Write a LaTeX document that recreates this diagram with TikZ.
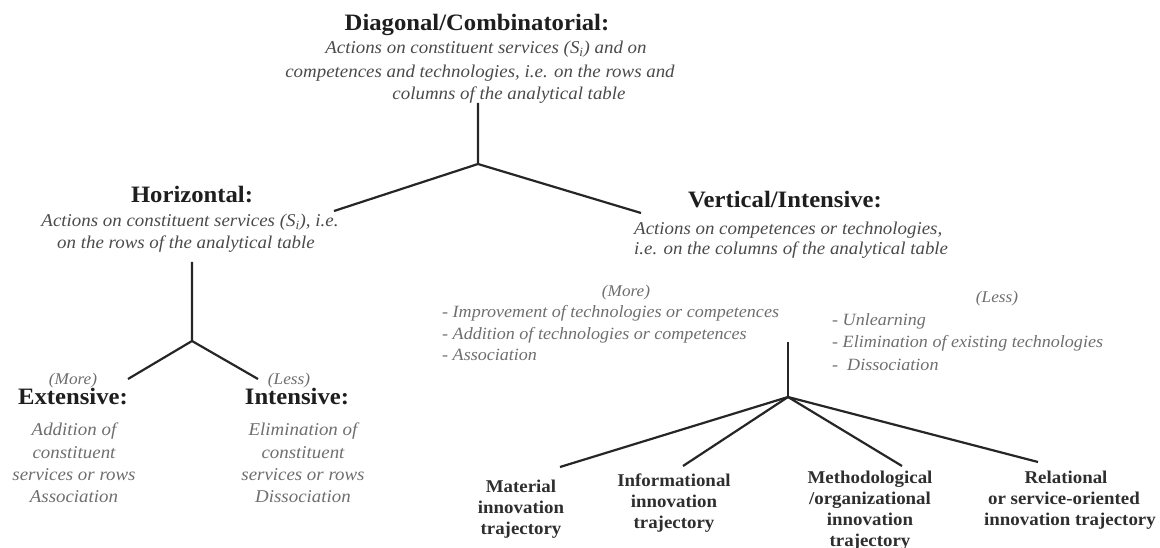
\documentclass[tikz,border=0pt]{standalone}
\usepackage{fontspec}
\setmainfont{Liberation Serif}[FakeStretch=1.05]
\definecolor{ink}{HTML}{1E1E1E}
\definecolor{note}{HTML}{4A4A4A}
\definecolor{soft}{HTML}{6E6E6E}
\definecolor{trajink}{HTML}{2E2E2E}
\definecolor{wire}{HTML}{262626}
\tikzset{
  head/.style={anchor=base, inner sep=0pt, text=ink, font=\fontsize{23.5}{26}\selectfont\bfseries},
  desc/.style={anchor=base, inner sep=0pt, text=note, font=\fontsize{18}{21}\selectfont\itshape},
  lowdesc/.style={desc, text=soft},
  listitem/.style={anchor=base west, inner sep=0pt, text=soft, font=\fontsize{17.2}{20}\selectfont\itshape},
  degree/.style={anchor=base, inner sep=0pt, text=soft, font=\fontsize{16.4}{19}\selectfont\itshape},
  traj/.style={anchor=base, inner sep=0pt, text=trajink, font=\fontsize{18}{21}\selectfont\bfseries},
  branch/.style={draw=wire, line width=2.2pt},
}
\begin{document}
\begin{tikzpicture}[x=1pt,y=-1pt]
\useasboundingbox (0,0) rectangle (1160,548);

% root: diagonal / combinatorial
\node[head] (diag) at (477,31) {Diagonal/Combinatorial:};
\node[desc] (diag1) at (486,54) {Actions on constituent services (S\textsubscript{i}) and on};
\node[desc] (diag2) at (480,78) {competences and technologies, i.e. on the rows and};
\node[desc] (diag3) at (509,100) {columns of the analytical table};

% horizontal branch
\node[head] (hor) at (192,203) {Horizontal:};
\node[desc] (hor1) at (190,227) {Actions on constituent services (S\textsubscript{i}), i.e.};
\node[desc] (hor2) at (186,249) {on the rows of the analytical table};

% vertical branch
\node[head] (vert) at (785,208) {Vertical/Intensive:};
\node[desc, anchor=base west] (vert1) at (634,235) {Actions on competences or technologies,};
\node[desc, anchor=base west] (vert2) at (634,255) {i.e. on the columns of the analytical table};

% horizontal: extensive / intensive
\node[degree] (hmore) at (73,384) {(More)};
\node[degree] (hless) at (289,384) {(Less)};
\node[head] (ext) at (73,404) {Extensive:};
\node[head] (int) at (297,404) {Intensive:};
\node[lowdesc] (ext1) at (74,435) {Addition of};
\node[lowdesc] (ext2) at (74,458) {constituent};
\node[lowdesc] (ext3) at (74,480) {services or rows};
\node[lowdesc] (ext4) at (74,502) {Association};
\node[lowdesc] (int1) at (303,435) {Elimination of};
\node[lowdesc] (int2) at (303,458) {constituent};
\node[lowdesc] (int3) at (303,480) {services or rows};
\node[lowdesc] (int4) at (303,502) {Dissociation};

% vertical: more / less
\node[degree] (vmore) at (626,297) {(More)};
\node[listitem] (vm1) at (442,317) {- Improvement of technologies or competences};
\node[listitem] (vm2) at (442,339) {- Addition of technologies or competences};
\node[listitem] (vm3) at (442,360) {- Association};
\node[degree] (vless) at (997,302) {(Less)};
\node[listitem] (vl1) at (832,326) {- Unlearning};
\node[listitem] (vl2) at (832,348) {- Elimination of existing technologies};
\node[listitem] (vl3) at (832,370) {-\ \ Dissociation};

% innovation trajectories
\node[traj] (mat1) at (521,492) {Material};
\node[traj] (mat2) at (521,513) {innovation};
\node[traj] (mat3) at (521,534) {trajectory};
\node[traj] (inf1) at (674,486) {Informational};
\node[traj] (inf2) at (674,507) {innovation};
\node[traj] (inf3) at (674,528) {trajectory};
\node[traj] (met1) at (870,483) {Methodological};
\node[traj] (met2) at (870,504) {/organizational};
\node[traj] (met3) at (870,525) {innovation};
\node[traj] (met4) at (870,546) {trajectory};
\node[traj] (rel1) at (1066,483) {Relational};
\node[traj] (rel2) at (1064,504) {or service-oriented};
\node[traj] (rel3) at (1070,525) {innovation trajectory};

% tree connectors
\coordinate (diagTop) at (478,103);
\coordinate (diagFork) at (478,164);
\coordinate (horEnd) at (334,211);
\coordinate (vertEnd) at (641,213);
\draw[branch] (diagTop) -- (diagFork) -- (horEnd);
\draw[branch] (diagFork) -- (vertEnd);

\coordinate (horTop) at (192,262);
\coordinate (horFork) at (192,341);
\coordinate (extEnd) at (128,379);
\coordinate (intEnd) at (258,379);
\draw[branch] (horTop) -- (horFork) -- (extEnd);
\draw[branch] (horFork) -- (intEnd);

\coordinate (vertTop) at (788,342);
\coordinate (vertFork) at (788,397);
\coordinate (matEnd) at (560,467);
\coordinate (infEnd) at (683,466);
\coordinate (metEnd) at (902,466);
\coordinate (relEnd) at (1038,462);
\draw[branch] (vertTop) -- (vertFork);
\draw[branch] (vertFork) -- (matEnd);
\draw[branch] (vertFork) -- (infEnd);
\draw[branch] (vertFork) -- (metEnd);
\draw[branch] (vertFork) -- (relEnd);
\end{tikzpicture}
\end{document}
